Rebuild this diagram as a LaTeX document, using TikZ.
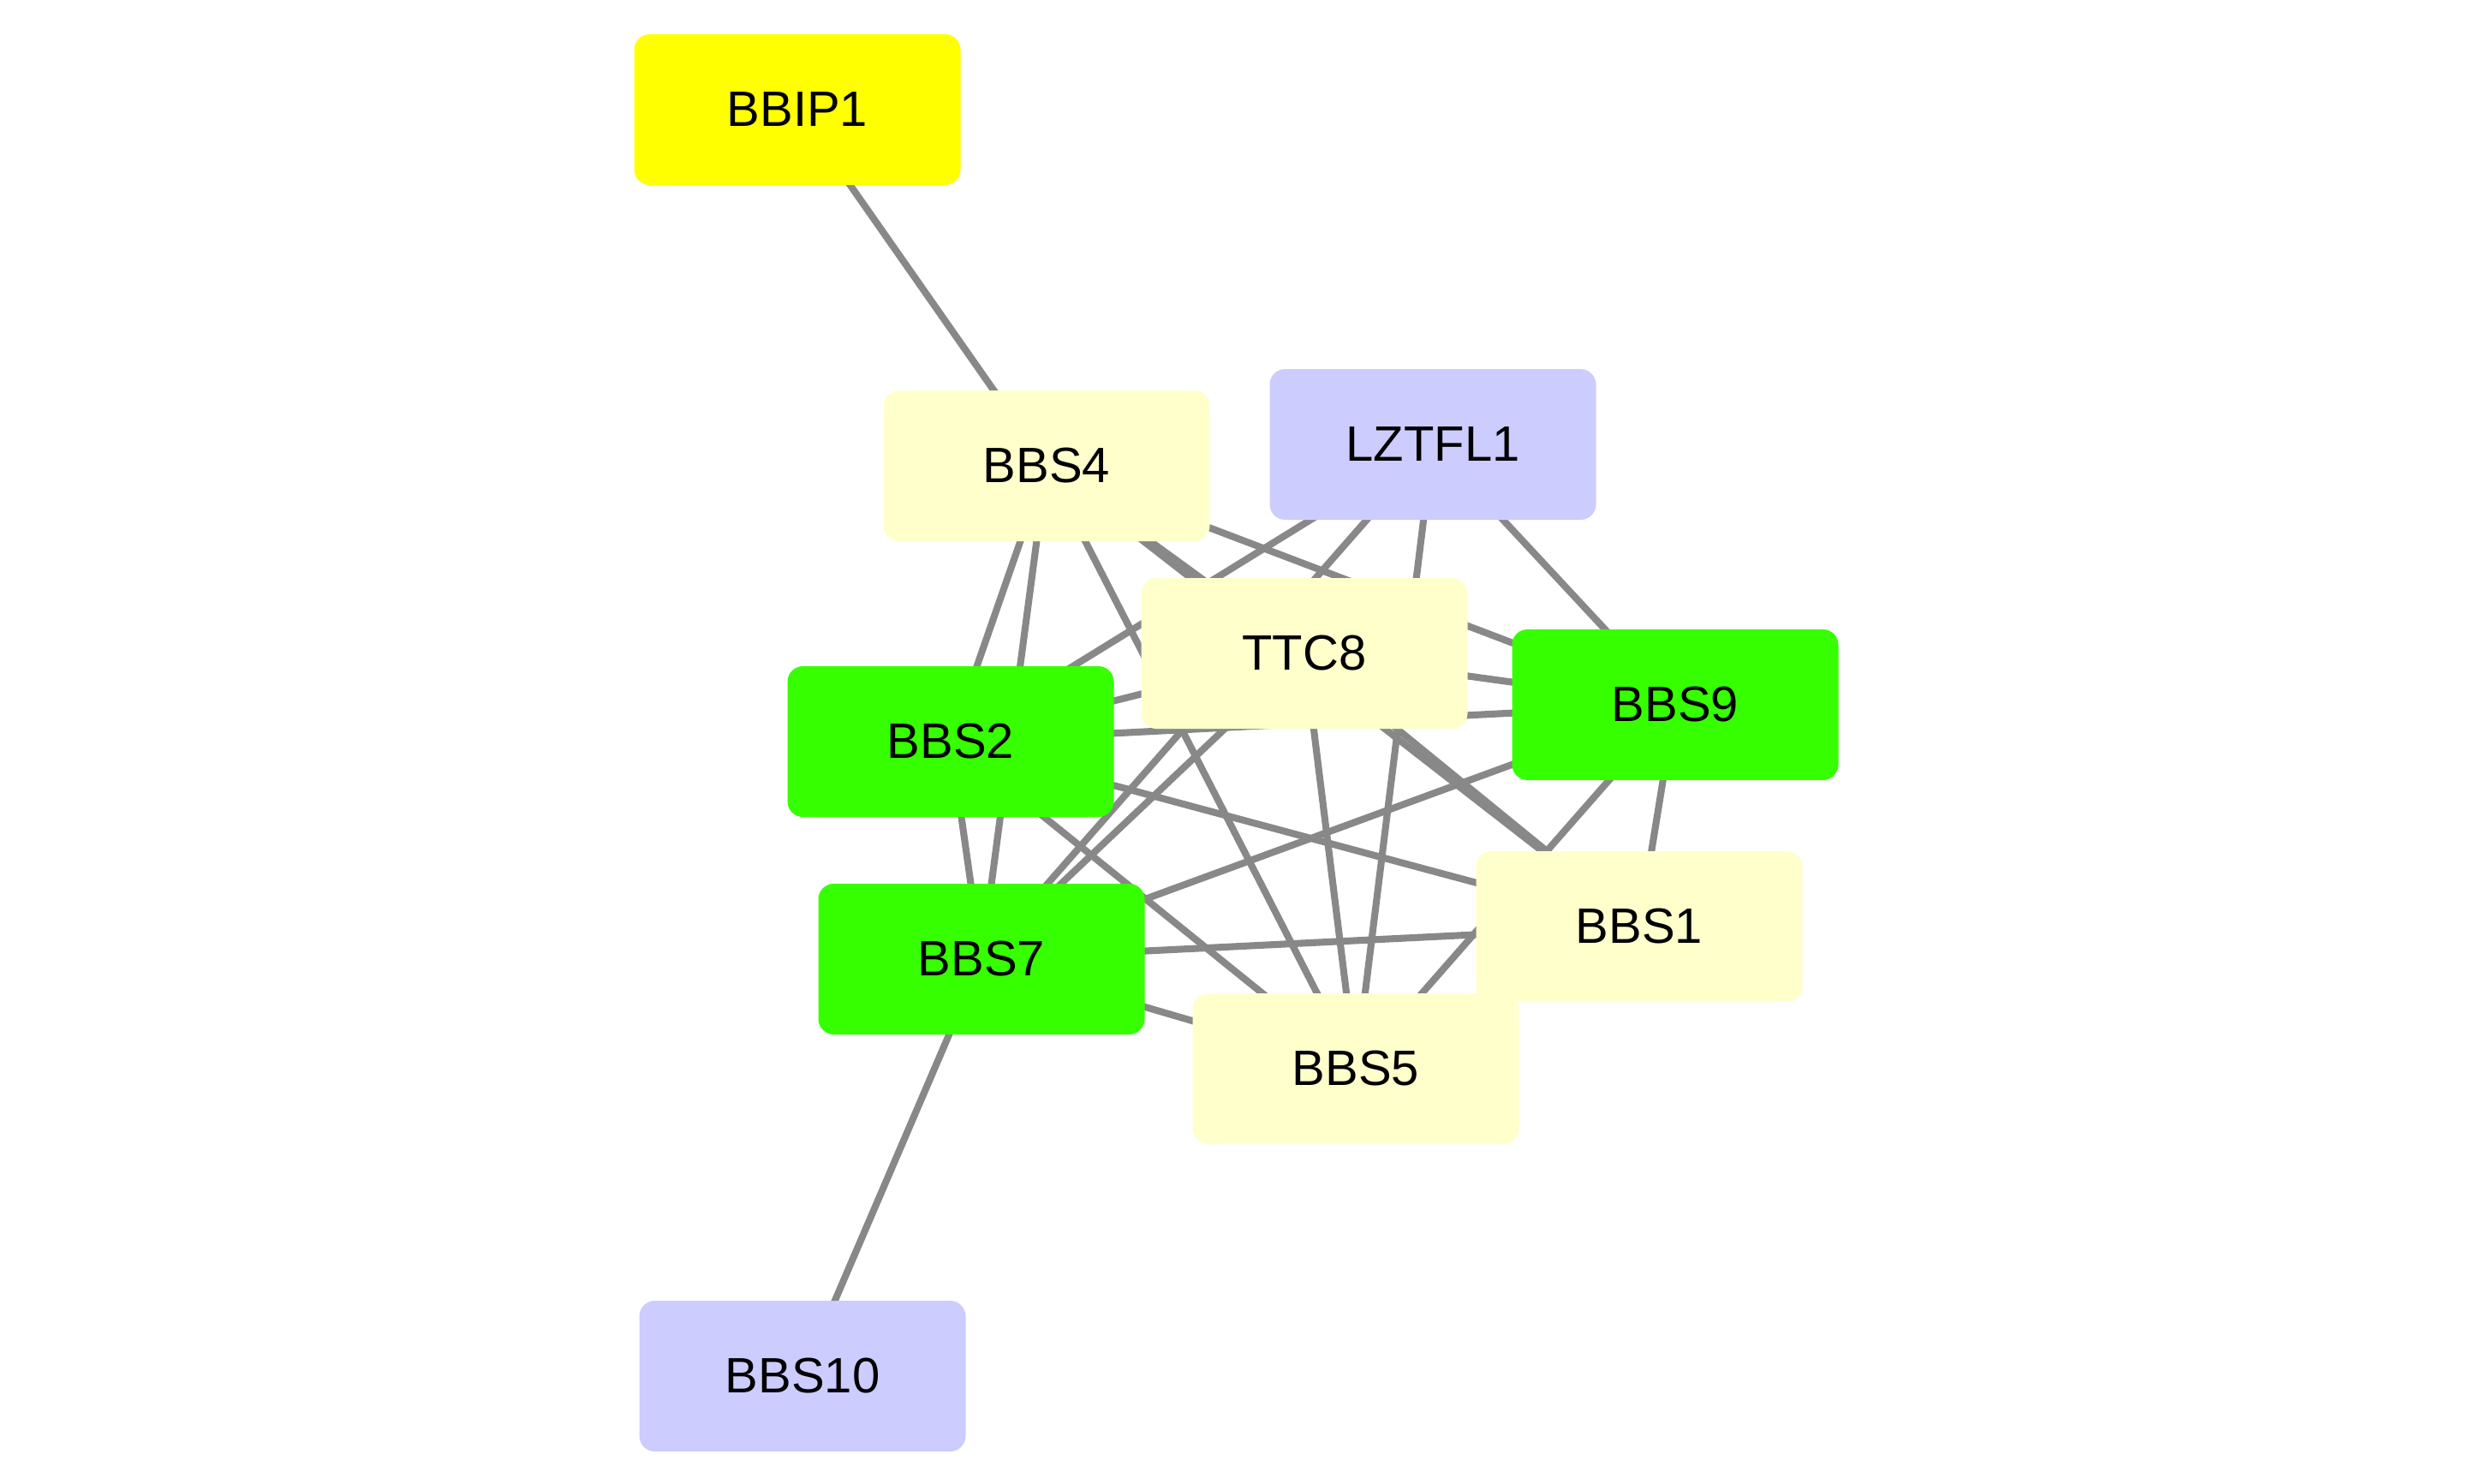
\documentclass[tikz,border=0pt]{standalone}
\usepackage{fontspec}
\setmainfont{Liberation Sans}
\usepackage{xcolor}
\usepackage{tikz}
\usetikzlibrary{backgrounds}

\definecolor{hubyellow}{HTML}{FFFF00}
\definecolor{paleyellow}{HTML}{FFFFCC}
\definecolor{lavender}{HTML}{CCCCFF}
\definecolor{brightgreen}{HTML}{36FF00}
\definecolor{edgegray}{HTML}{888888}

\begin{document}
\begin{tikzpicture}[x=1cm,y=-1cm,
  gene/.style={rectangle,rounded corners=0.18cm,minimum width=3.81cm,minimum height=1.76cm,
    inner sep=0pt,font=\fontsize{16.5}{20}\selectfont},
  edge/.style={draw=edgegray,line width=2.3pt}]
  \useasboundingbox (0,0) rectangle (28.84,17.32);
  % proteins
  \node[gene,fill=hubyellow] (bbip1) at (9.31,1.28) {BBIP1};
  \node[gene,fill=paleyellow] (bbs4) at (12.22,5.44) {BBS4};
  \node[gene,fill=lavender] (lztfl1) at (16.73,5.19) {LZTFL1};
  \node[gene,fill=paleyellow] (ttc8) at (15.23,7.63) {TTC8};
  \node[gene,fill=brightgreen] (bbs9) at (19.56,8.23) {BBS9};
  \node[gene,fill=brightgreen] (bbs2) at (11.10,8.66) {BBS2};
  \node[gene,fill=paleyellow] (bbs1) at (19.14,10.82) {BBS1};
  \node[gene,fill=brightgreen] (bbs7) at (11.46,11.20) {BBS7};
  \node[gene,fill=paleyellow] (bbs5) at (15.83,12.48) {BBS5};
  \node[gene,fill=lavender] (bbs10) at (9.37,16.07) {BBS10};
  % interactions, behind the boxes
  \begin{pgfonlayer}{background}
    \foreach \a/\b in {bbip1/bbs4,bbs10/bbs7,
      bbs4/bbs2,bbs4/bbs7,bbs4/ttc8,bbs4/bbs5,bbs4/bbs9,bbs4/bbs1,
      lztfl1/bbs2,lztfl1/bbs7,lztfl1/bbs5,lztfl1/bbs9,
      ttc8/bbs2,ttc8/bbs7,ttc8/bbs5,ttc8/bbs9,ttc8/bbs1,
      bbs9/bbs2,bbs9/bbs7,bbs9/bbs5,bbs9/bbs1,
      bbs2/bbs7,bbs2/bbs5,bbs2/bbs1,
      bbs7/bbs5,bbs7/bbs1,bbs5/bbs1}
      \draw[edge] (\a.center) -- (\b.center);
  \end{pgfonlayer}
\end{tikzpicture}
\end{document}
